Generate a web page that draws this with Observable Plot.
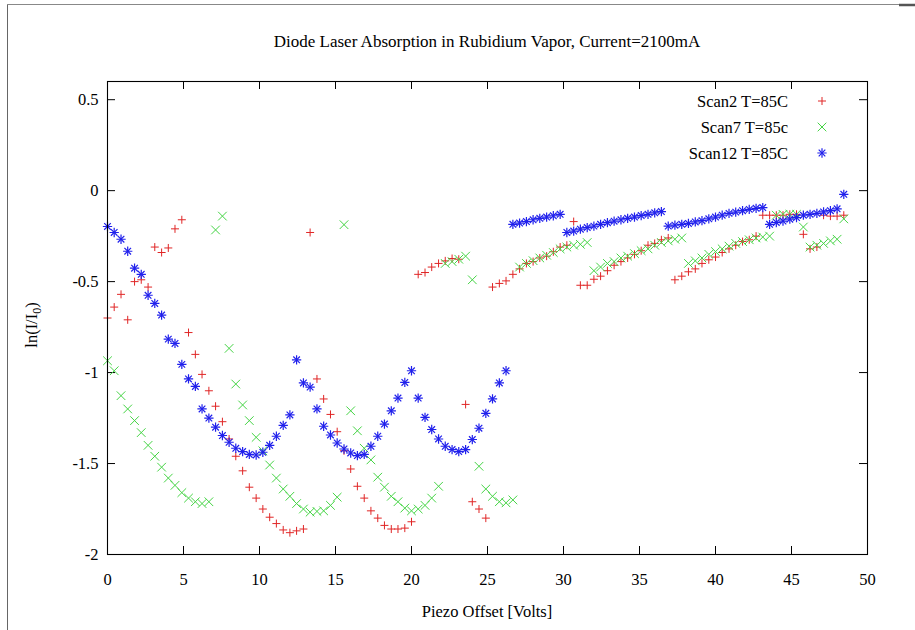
<!DOCTYPE html>
<html><head><meta charset="utf-8">
<script src="https://cdn.jsdelivr.net/npm/d3@7"></script>
<script src="https://cdn.jsdelivr.net/npm/@observablehq/plot@0.6"></script>
<style>
html,body{margin:0;padding:0;background:#fff;}
#chart{position:relative;width:915px;height:630px;overflow:hidden;}
</style>
</head><body><div id="chart"></div>
<script>
// ---- data ----
const piezo = [0,0.44,0.89,1.33,1.78,2.22,2.67,3.11,3.56,4.00,
  4.44,4.89,5.33,5.78,6.22,6.67,7.11,7.56,8.00,8.44,
  8.89,9.33,9.78,10.22,10.67,11.11,11.56,12.00,12.44,12.89,
  13.33,13.78,14.22,14.67,15.11,15.56,16.00,16.44,16.89,17.33,
  17.78,18.22,18.67,19.11,19.56,20.00,20.44,20.89,21.33,21.78,
  22.22,22.67,23.11,23.56,24.00,24.44,24.89,25.33,25.78,26.22,
  26.67,27.11,27.56,28.00,28.44,28.89,29.33,29.78,30.22,30.67,
  31.11,31.56,32.00,32.44,32.89,33.33,33.78,34.22,34.67,35.11,
  35.56,36.00,36.44,36.89,37.33,37.78,38.22,38.67,39.11,39.56,
  40.00,40.44,40.89,41.33,41.78,42.22,42.67,43.11,43.56,44.00,
  44.44,44.89,45.33,45.78,46.22,46.67,47.11,47.56,48.00,48.44];

const scan2 = [-0.70,-0.64,-0.57,-0.71,-0.50,-0.49,-0.53,-0.31,-0.34,-0.315,
  -0.21,-0.16,-0.78,-0.90,-1.01,-1.10,-1.185,-1.27,-1.365,-1.46,
  -1.54,-1.63,-1.69,-1.75,-1.795,-1.83,-1.865,-1.88,-1.87,-1.86,
  -0.23,-1.035,-1.145,-1.23,-1.325,-1.43,-1.53,-1.625,-1.69,-1.76,
  -1.80,-1.84,-1.86,-1.86,-1.855,-1.82,-0.46,-0.45,-0.42,-0.40,
  -0.386,-0.373,-0.377,-1.175,-1.71,-1.75,-1.80,-0.53,-0.51,-0.496,
  -0.46,-0.43,-0.40,-0.39,-0.37,-0.36,-0.336,-0.31,-0.30,-0.17,
  -0.52,-0.52,-0.487,-0.47,-0.44,-0.41,-0.39,-0.37,-0.35,-0.33,
  -0.30,-0.29,-0.27,-0.26,-0.49,-0.47,-0.446,-0.43,-0.40,-0.38,
  -0.365,-0.34,-0.32,-0.30,-0.28,-0.27,-0.25,-0.135,-0.135,-0.135,
  -0.135,-0.13,-0.13,-0.24,-0.32,-0.31,-0.135,-0.14,-0.14,-0.135];

const scan7 = [-0.935,-0.99,-1.127,-1.20,-1.264,-1.33,-1.40,-1.46,-1.52,-1.58,
  -1.62,-1.66,-1.69,-1.71,-1.72,-1.71,-0.216,-0.14,-0.867,-1.063,
  -1.178,-1.264,-1.356,-1.43,-1.508,-1.58,-1.64,-1.68,-1.72,-1.75,
  -1.767,-1.763,-1.76,-1.73,-1.685,-0.187,-1.21,-1.32,-1.416,-1.48,
  -1.575,-1.63,-1.68,-1.71,-1.745,-1.76,-1.75,-1.73,-1.69,-1.625,
  -0.40,-0.39,-0.377,-0.36,-0.49,-1.515,-1.64,-1.68,-1.71,-1.716,
  -1.70,-0.42,-0.40,-0.385,-0.37,-0.355,-0.34,-0.32,-0.31,-0.30,
  -0.295,-0.285,-0.44,-0.42,-0.40,-0.39,-0.37,-0.36,-0.346,-0.33,
  -0.32,-0.30,-0.285,-0.276,-0.267,-0.26,-0.40,-0.386,-0.37,-0.35,
  -0.335,-0.32,-0.305,-0.29,-0.28,-0.27,-0.26,-0.255,-0.25,-0.135,
  -0.13,-0.13,-0.13,-0.20,-0.31,-0.30,-0.29,-0.276,-0.267,-0.155];

const scan12 = [-0.197,-0.23,-0.267,-0.333,-0.426,-0.46,-0.575,-0.62,-0.684,-0.816,
  -0.84,-0.955,-1.035,-1.076,-1.20,-1.25,-1.30,-1.346,-1.383,-1.416,
  -1.434,-1.45,-1.453,-1.438,-1.40,-1.35,-1.29,-1.233,-0.93,-1.057,
  -1.08,-1.20,-1.295,-1.343,-1.387,-1.42,-1.442,-1.456,-1.45,-1.405,
  -1.35,-1.283,-1.21,-1.14,-1.054,-0.99,-1.14,-1.246,-1.313,-1.365,
  -1.405,-1.423,-1.434,-1.423,-1.368,-1.306,-1.224,-1.145,-1.057,-0.99,
  -0.185,-0.178,-0.17,-0.16,-0.152,-0.145,-0.138,-0.13,-0.23,-0.222,
  -0.212,-0.203,-0.195,-0.185,-0.176,-0.168,-0.16,-0.152,-0.145,-0.137,
  -0.13,-0.122,-0.115,-0.195,-0.19,-0.185,-0.18,-0.172,-0.165,-0.155,
  -0.145,-0.135,-0.125,-0.118,-0.11,-0.103,-0.097,-0.093,-0.185,-0.175,
  -0.167,-0.157,-0.148,-0.135,-0.13,-0.125,-0.117,-0.11,-0.10,-0.02];

const xTicks = [0,5,10,15,20,25,30,35,40,45,50];
const yTicks = [-2,-1.5,-1,-0.5,0,0.5];
const seriesNames = ["Scan2 T=85C","Scan7 T=85c","Scan12 T=85C"];
const seriesColors = ["#e02626","#45d445","#2020ec"];
const titleText = "Diode Laser Absorption in Rubidium Vapor, Current=2100mA";
const xLabelText = "Piezo Offset [Volts]";

// ---- build chart ----
const W = 915, H = 630, mL = 107, mR = 48, mT = 81, mB = 76;
const frameW = W - mL - mR, frameH = H - mT - mB, tickLen = 8;
const rows = vals => piezo.map((x, i) => ({x, y: vals[i]}));
const r2 = rows(scan2), r7 = rows(scan7), r12 = rows(scan12);
const fontFamily = "'Liberation Serif','Times New Roman',serif";

const chart = Plot.plot({
  width: W, height: H,
  marginLeft: mL, marginRight: mR, marginTop: mT, marginBottom: mB,
  x: {domain: [0, 50]},
  y: {domain: [-2, 0.6]},
  style: {fontFamily, fontSize: "16.5px", color: "#000", background: "#fff"},
  marks: [
    Plot.axisX(xTicks, {tickSize: 0, tickPadding: 19, label: null, tickFormat: d => String(d)}),
    Plot.axisY(yTicks, {tickSize: 0, tickPadding: 9, label: null, tickFormat: d => String(d)}),
    Plot.tickX(xTicks, {x: d => d, insetTop: frameH - tickLen, stroke: "#000"}),
    Plot.tickX(xTicks, {x: d => d, insetBottom: frameH - tickLen, stroke: "#000"}),
    Plot.tickY(yTicks, {y: d => d, insetRight: frameW - tickLen, stroke: "#000"}),
    Plot.tickY(yTicks, {y: d => d, insetLeft: frameW - tickLen, stroke: "#000"}),
    Plot.dot(r2, {x: "x", y: "y", symbol: "plus", r: 2.7, stroke: seriesColors[0], strokeWidth: 1}),
    Plot.dot(r7, {x: "x", y: "y", symbol: "times", r: 4, stroke: seriesColors[1], strokeWidth: 1}),
    Plot.dot(r12, {x: "x", y: "y", symbol: "plus", r: 3.1, stroke: seriesColors[2], strokeWidth: 1.2}),
    Plot.dot(r12, {x: "x", y: "y", symbol: "times", r: 3.1, stroke: seriesColors[2], strokeWidth: 1.2}),
    Plot.frame({stroke: "#000", strokeWidth: 1.1})
  ]
});
document.getElementById("chart").appendChild(chart);

// ---- texts, legend, page border ----
const svg = d3.select(chart);
const g = svg.append("g").attr("font-family", fontFamily).attr("fill", "#000");

g.append("text").attr("x", mL + frameW / 2).attr("y", 47)
  .attr("text-anchor", "middle").attr("font-size", 17).text(titleText);

g.append("text").attr("x", mL + frameW / 2).attr("y", 617)
  .attr("text-anchor", "middle").attr("font-size", 16.5).text(xLabelText);

const yl = g.append("text").attr("transform", "translate(37,325) rotate(-90)")
  .attr("text-anchor", "middle").attr("font-size", 16.5);
yl.append("tspan").text("ln(I/I");
yl.append("tspan").attr("dy", 4).attr("font-size", 12).text("0");
yl.append("tspan").attr("dy", -4).text(")");

// legend
const legY = [101, 127, 153];
const symbols = [[d3.symbolPlus, 2.7, 1], [d3.symbolTimes, 4, 1], [[d3.symbolPlus, d3.symbolTimes], 3.1, 1.2]];
seriesNames.forEach((name, i) => {
  g.append("text").attr("x", 788).attr("y", legY[i] + 5.5)
    .attr("text-anchor", "end").attr("font-size", 16.5).text(name);
  const [sym, r, sw] = symbols[i];
  const list = Array.isArray(sym) ? sym : [sym];
  list.forEach(s => {
    g.append("path").attr("transform", `translate(822,${legY[i]})`)
      .attr("d", d3.symbol(s, Math.PI * r * r)())
      .attr("fill", "none").attr("stroke", seriesColors[i]).attr("stroke-width", sw);
  });
});

// page border seen in the reference screenshot
svg.append("line").attr("x1", 7.5).attr("x2", 7.5).attr("y1", 5).attr("y2", H)
  .attr("stroke", "#666").attr("stroke-width", 1);
svg.append("line").attr("x1", 7).attr("x2", W).attr("y1", 4.5).attr("y2", 4.5)
  .attr("stroke", "#888").attr("stroke-width", 1);
svg.append("line").attr("x1", 899).attr("x2", W).attr("y1", 5).attr("y2", 5)
  .attr("stroke", "#555").attr("stroke-width", 2.5);
</script>
</body></html>
